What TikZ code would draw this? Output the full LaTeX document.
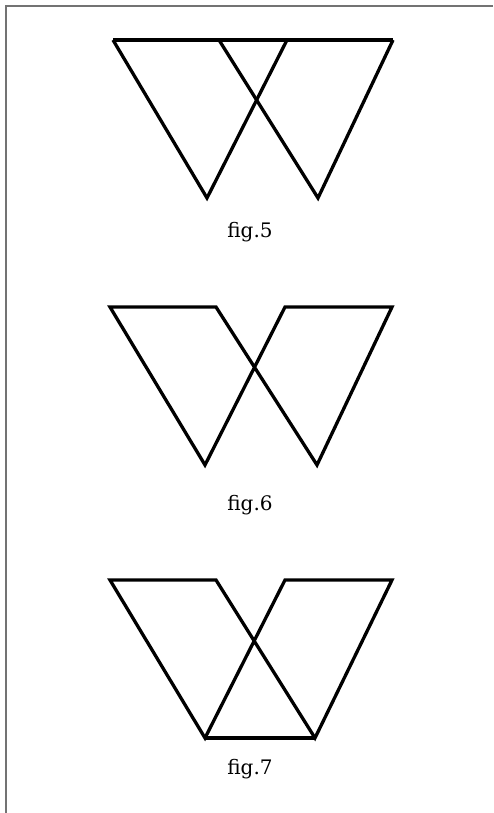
\documentclass[tikz,border=0pt]{standalone}
\usepackage{fontspec}
\setmainfont{DejaVu Serif}
\begin{document}
\begin{tikzpicture}[x=1pt,y=-1pt,
  figline/.style={line width=3.3pt,line join=miter,black},
  frame/.style={line width=2pt,color=black!55},
  figcap/.style={anchor=base,font=\fontsize{20}{22}\selectfont,inner sep=0pt}]
\useasboundingbox (0,0) rectangle (493,813);
% frame
\coordinate (fa) at (6,813);
\coordinate (fb) at (6,6);
\coordinate (fc) at (493,6);
\draw[frame] (fa) -- (fb) -- (fc);
% fig 5
\coordinate (a1) at (113,40);
\coordinate (a2) at (219,40);
\coordinate (a3) at (287,40);
\coordinate (a4) at (393,40);
\coordinate (a5) at (207,198);
\coordinate (a6) at (318,198);
\draw[figline] (a1) -- (a4);
\draw[figline] (a1) -- (a5) -- (a3);
\draw[figline] (a2) -- (a6) -- (a4);
\node[figcap] (c5) at (250,237) {fig.5};
% fig 6
\coordinate (b1) at (110,307);
\coordinate (b2) at (216,307);
\coordinate (b3) at (285,307);
\coordinate (b4) at (392,307);
\coordinate (b5) at (205,465);
\coordinate (b6) at (317,465);
\draw[figline] (b5) -- (b1) -- (b2) -- (b6) -- (b4) -- (b3) -- cycle;
\node[figcap] (c6) at (250,510) {fig.6};
% fig 7
\coordinate (d1) at (110,580);
\coordinate (d2) at (216,580);
\coordinate (d3) at (285,580);
\coordinate (d4) at (392,580);
\coordinate (d5) at (205,738);
\coordinate (d6) at (315,738);
\draw[figline] (d5) -- (d1) -- (d2) -- (d6) -- (d4) -- (d3) -- cycle;
\draw[figline] (d5) -- (d6);
\node[figcap] (c7) at (250,774) {fig.7};
\end{tikzpicture}
\end{document}
